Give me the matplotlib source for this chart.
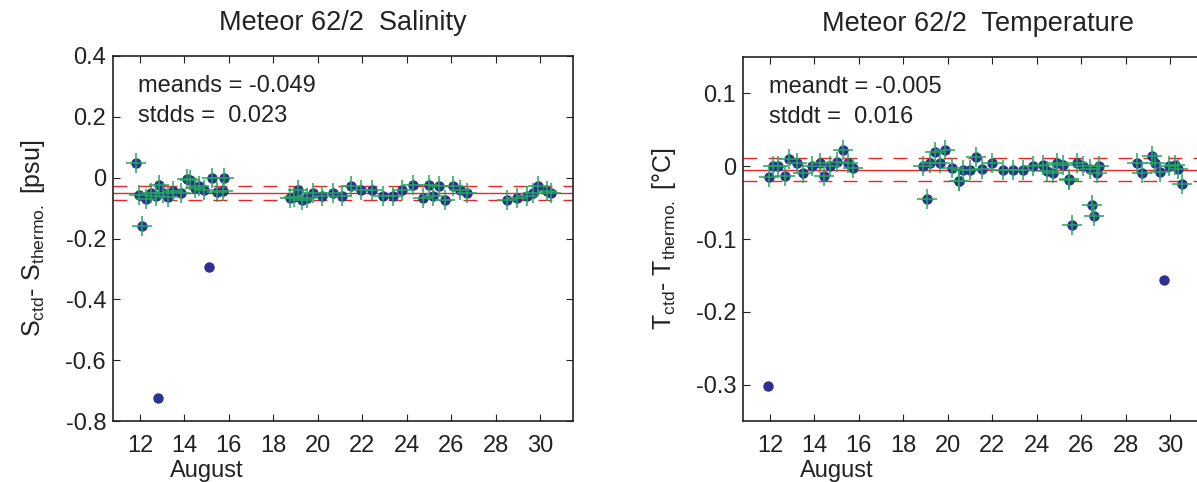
import matplotlib
matplotlib.use("Agg")
import matplotlib.pyplot as plt

plt.rcParams['font.family'] = ['Liberation Sans', 'DejaVu Sans']
plt.rcParams['mathtext.fontset'] = 'custom'
plt.rcParams['mathtext.rm'] = 'Liberation Sans'
plt.rcParams['mathtext.it'] = 'Liberation Sans:italic'

# salinity differences (day of August, S_ctd - S_thermo)
sal_day = [11.8, 12.1, 11.95, 12.28, 12.5, 12.7, 12.85, 13.03, 13.26, 13.5, 13.86,
           14.1, 14.26, 14.46, 14.65, 14.87, 15.25, 15.46, 15.73, 15.78,
           18.75, 18.95, 19.1, 19.3, 19.5, 19.8, 20.2, 20.7, 21.08, 21.5, 21.96,
           22.45, 22.95, 23.4, 23.8, 24.3, 24.75, 25.0, 25.2, 25.47, 25.73,
           26.1, 26.4, 26.7, 28.5, 28.95, 29.4, 29.7, 29.93, 30.3, 30.5]
sal_val = [0.048, -0.16, -0.056, -0.07, -0.05, -0.059, -0.023, -0.05, -0.064, -0.045, -0.05,
           -0.004, -0.009, -0.034, -0.028, -0.042, 0.0, -0.048, -0.045, 0.0,
           -0.068, -0.063, -0.04, -0.072, -0.066, -0.05, -0.061, -0.05, -0.061, -0.028, -0.04,
           -0.04, -0.061, -0.061, -0.04, -0.023, -0.067, -0.023, -0.061, -0.028, -0.072,
           -0.028, -0.04, -0.05, -0.072, -0.067, -0.061, -0.05, -0.028, -0.045, -0.05]
sal_bad_day = [12.8, 15.1]
sal_bad_val = [-0.724, -0.294]
sal_mean = -0.049
sal_std = 0.023

# temperature differences (day of August, T_ctd - T_thermo)
tem_day = [11.95, 12.15, 12.37, 12.68, 12.87, 13.2, 13.5, 13.88, 14.25, 14.43, 14.7,
           15.0, 15.3, 15.52, 15.75, 18.9, 19.05, 19.2, 19.43, 19.65, 19.88, 20.18,
           20.5, 20.52, 20.7, 21.0, 21.27, 21.53, 21.98, 22.47, 22.92, 23.37, 23.82,
           24.3, 24.45, 24.72, 24.9, 25.2, 25.47, 25.46, 25.6, 25.8, 26.1, 26.4,
           26.47, 26.58, 26.7, 26.82, 28.5, 28.73, 29.18, 29.33, 29.55, 29.97,
           30.22, 30.37, 30.52]
tem_val = [-0.015, 0.0, 0.0, -0.014, 0.01, 0.004, -0.01, 0.0, 0.004, -0.014, 0.0,
           0.006, 0.022, 0.004, -0.003, 0.0, -0.045, 0.004, 0.02, 0.004, 0.022, -0.003,
           -0.021, -0.02, -0.005, -0.005, 0.012, -0.004, 0.004, -0.005, -0.005, -0.005, 0.0,
           0.002, -0.007, -0.01, 0.004, 0.002, -0.017, -0.019, -0.081, 0.004, 0.0, -0.004,
           -0.053, -0.069, -0.01, 0.0, 0.005, -0.01, 0.014, 0.004, -0.008, 0.0,
           0.002, -0.004, -0.024]
tem_bad_day = [11.9, 29.74]
tem_bad_val = [-0.302, -0.157]
tem_mean = -0.005
tem_std = 0.016

BLUE = '#2e3192'
GREEN = '#1faa59'
RED = '#e8262b'
INK = '#222222'

fig = plt.figure(figsize=(11.97, 4.82), dpi=100)
ax1 = fig.add_axes([113 / 1197, 61 / 482, 460 / 1197, 365 / 482])
ax2 = fig.add_axes([743 / 1197, 61 / 482, 480 / 1197, 364 / 482])


def panel(ax, day, val, bad_day, bad_val, mean, std, xlim, ylim, yticks,
          title, ylabel, txt1, txt2):
    ax.axhline(mean, color=RED, lw=1.0, zorder=1)
    ax.axhline(mean + std, color=RED, lw=1.0, ls=(0, (10, 8)), zorder=1)
    ax.axhline(mean - std, color=RED, lw=1.0, ls=(0, (10, 8)), zorder=1)
    ax.plot(day + bad_day, val + bad_val, 'o', color=BLUE, ms=7.5, mec='none', zorder=2)
    ax.plot(day, val, '+', color=GREEN, ms=14, mew=1.1, zorder=3)
    ax.set_xlim(*xlim)
    ax.set_ylim(*ylim)
    ax.set_xticks(range(12, 31, 2))
    ax.set_yticks(yticks)
    ax.set_yticklabels([f'{v:g}' for v in yticks])
    ax.tick_params(direction='in', length=5, width=0.8, top=True, right=True,
                   labelsize=17, colors=INK, labelcolor=INK)
    ax.tick_params(axis='x', pad=10)
    ax.tick_params(axis='y', pad=5)
    for s in ax.spines.values():
        s.set_linewidth(1.2)
        s.set_color(INK)
    ax.set_title(title, fontsize=19.5, pad=19, color=INK)
    ax.set_ylabel(ylabel, fontsize=18, labelpad=13, color=INK)
    ax.text(15, -0.137, 'August', transform=ax.get_xaxis_transform(),
            ha='center', va='center', fontsize=17, color=INK)
    ax.text(25 / 460, 0.918, txt1, transform=ax.transAxes, va='center',
            fontsize=17, color=INK)
    ax.text(25 / 460, 0.835, txt2, transform=ax.transAxes, va='center',
            fontsize=17, color=INK)


panel(ax1, sal_day, sal_val, sal_bad_day, sal_bad_val, sal_mean, sal_std,
      (10.785, 31.485), (-0.8, 0.4), [-0.8, -0.6, -0.4, -0.2, 0, 0.2, 0.4],
      'Meteor 62/2  Salinity',
      r'S$_{\rm ctd}$- S$_{\rm thermo.}$ [psu]',
      'meands = -0.049', 'stdds =  0.023')

panel(ax2, tem_day, tem_val, tem_bad_day, tem_bad_val, tem_mean, tem_std,
      (10.785, 10.785 + 480 / 22.22), (-0.35, 0.15), [-0.3, -0.2, -0.1, 0, 0.1],
      'Meteor 62/2  Temperature',
      r'T$_{\rm ctd}$- T$_{\rm thermo.}$ [°C]',
      'meandt = -0.005', 'stddt =  0.016')

# keep the right title centred where the visible panel is
ax2.title.set_position((460 / 480 / 2 + 0.01, 1.0))

fig.savefig('out.png', dpi=100)
